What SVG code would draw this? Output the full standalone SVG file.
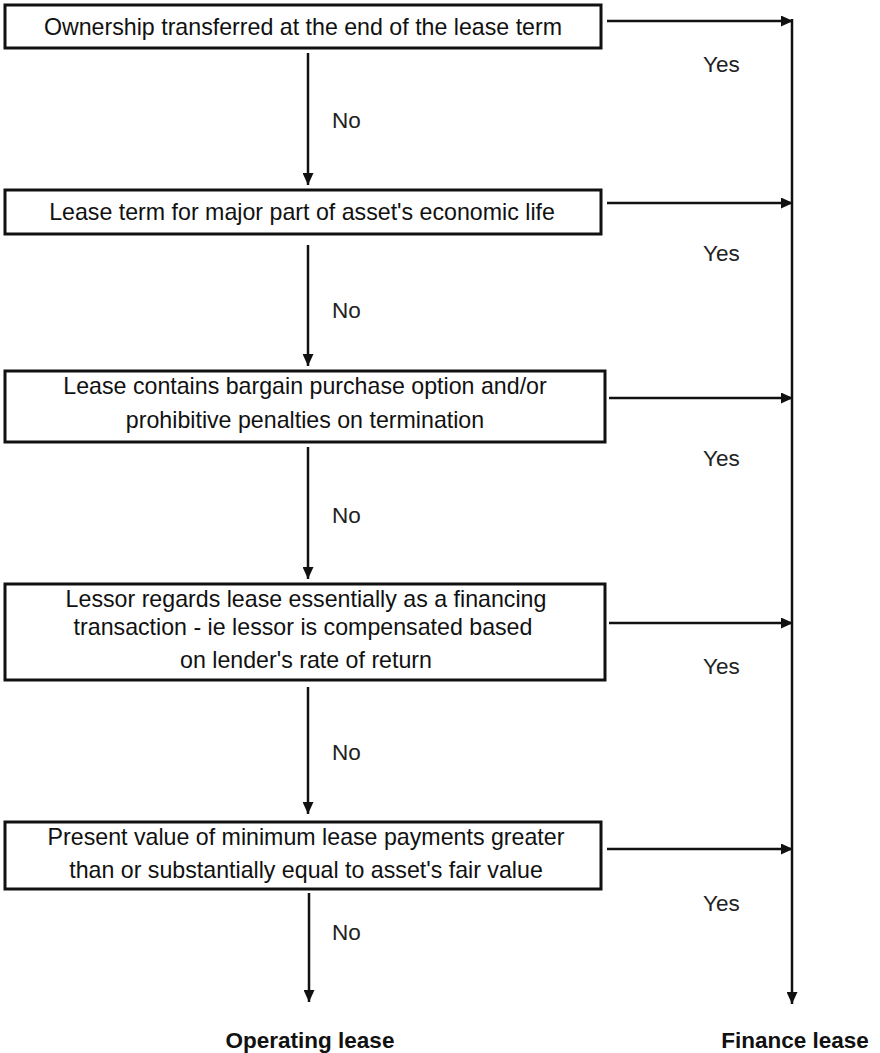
<svg xmlns="http://www.w3.org/2000/svg" width="880" height="1053" viewBox="0 0 880 1053">
<style>
.box{fill:#fff;stroke:#111;stroke-width:3}
.t{font-family:"Liberation Sans",Arial,sans-serif;font-size:23.2px;fill:#111;text-anchor:middle}
.l{font-family:"Liberation Sans",Arial,sans-serif;font-size:22.5px;fill:#222}
.b{font-family:"Liberation Sans",Arial,sans-serif;font-size:22.5px;font-weight:bold;fill:#111;text-anchor:middle}
.c{stroke:#111;stroke-width:2.5;fill:none}
</style>
<defs>
<marker id="ah" viewBox="0 0 12 11" refX="12" refY="5.5" markerWidth="12" markerHeight="11" markerUnits="userSpaceOnUse" orient="auto">
<path d="M0,0 L12,5.5 L0,11 z" fill="#111"/>
</marker>
</defs>
<rect width="880" height="1053" fill="#fff"/>
<g id="connectors">
<line class="c" x1="607" y1="21" x2="793" y2="21" marker-end="url(#ah)"/>
<line class="c" x1="607" y1="203" x2="793" y2="203" marker-end="url(#ah)"/>
<line class="c" x1="609" y1="398" x2="793" y2="398" marker-end="url(#ah)"/>
<line class="c" x1="609" y1="623" x2="793" y2="623" marker-end="url(#ah)"/>
<line class="c" x1="607" y1="849" x2="793" y2="849" marker-end="url(#ah)"/>
<line class="c" x1="792" y1="19" x2="792" y2="1004" marker-end="url(#ah)"/>
<line class="c" x1="308" y1="53" x2="308" y2="185" marker-end="url(#ah)"/>
<line class="c" x1="308" y1="245" x2="308" y2="366" marker-end="url(#ah)"/>
<line class="c" x1="308" y1="447" x2="308" y2="579" marker-end="url(#ah)"/>
<line class="c" x1="308" y1="687" x2="308" y2="814" marker-end="url(#ah)"/>
<line class="c" x1="309" y1="893" x2="309" y2="1002" marker-end="url(#ah)"/>
<text class="l" x="703" y="72">Yes</text>
<text class="l" x="703" y="261">Yes</text>
<text class="l" x="703" y="466">Yes</text>
<text class="l" x="703" y="674">Yes</text>
<text class="l" x="703" y="911">Yes</text>
<text class="l" x="332" y="128">No</text>
<text class="l" x="332" y="318">No</text>
<text class="l" x="332" y="523">No</text>
<text class="l" x="332" y="760">No</text>
<text class="l" x="332" y="940">No</text>
</g>
<g id="n1">
<rect class="box" x="5" y="5" width="596" height="43"/>
<text class="t" x="303" y="35">Ownership transferred at the end of the lease term</text>
</g>
<g id="n2">
<rect class="box" x="5" y="190" width="596" height="44"/>
<text class="t" x="302" y="220">Lease term for major part of asset's economic life</text>
</g>
<g id="n3">
<rect class="box" x="5" y="371" width="600" height="71"/>
<text class="t" x="305" y="394">Lease contains bargain purchase option and/or</text>
<text class="t" x="305" y="428">prohibitive penalties on termination</text>
</g>
<g id="n4">
<rect class="box" x="5" y="584" width="600" height="96"/>
<text class="t" x="306" y="607">Lessor regards lease essentially as a financing</text>
<text class="t" x="303" y="635">transaction - ie lessor is compensated based</text>
<text class="t" x="306" y="668">on lender's rate of return</text>
</g>
<g id="n5">
<rect class="box" x="5" y="822" width="596" height="67"/>
<text class="t" x="306" y="845">Present value of minimum lease payments greater</text>
<text class="t" x="306" y="878">than or substantially equal to asset's fair value</text>
</g>
<g id="out1">
<text class="b" x="310" y="1048">Operating lease</text>
</g>
<g id="out2">
<text class="b" x="795" y="1048">Finance lease</text>
</g>
</svg>
